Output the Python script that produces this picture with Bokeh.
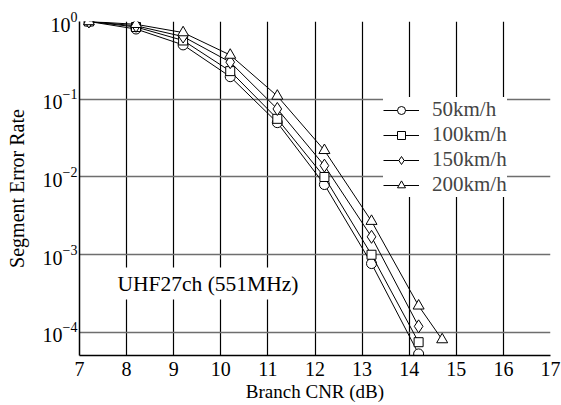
from bokeh.plotting import figure
from bokeh.models import FixedTicker, Label, Legend, LegendItem
from bokeh.embed import file_html
from bokeh.resources import INLINE

FONT = "'Liberation Serif', 'Times New Roman', serif"

cnr = [7.2, 8.2, 9.2, 10.2, 11.2, 12.2, 13.2, 14.2]
cnr_200 = [7.2, 8.2, 9.2, 10.2, 11.2, 12.2, 13.2, 14.2, 14.7]
ser_50 = [1.0, 0.80, 0.50, 0.195, 0.050, 0.0080, 7.7e-4, 5.3e-5]
ser_100 = [1.0, 0.85, 0.57, 0.23, 0.056, 0.0100, 1.0e-3, 7.5e-5]
ser_150 = [1.0, 0.88, 0.64, 0.30, 0.075, 0.0140, 1.7e-3, 1.2e-4]
ser_200 = [1.0, 0.92, 0.72, 0.37, 0.110, 0.0220, 2.7e-3, 2.2e-4, 8.1e-5]
labels = ["50km/h", "100km/h", "150km/h", "200km/h"]
x_ticks = [7, 8, 9, 10, 11, 12, 13, 14, 15, 16, 17]
y_ticks = [1e-4, 1e-3, 1e-2, 1e-1, 1e0]

p = figure(width=561, height=405, y_axis_type="log",
           x_range=(7, 17), y_range=(10 ** -4.296, 1.0),
           output_backend="svg", toolbar_location=None,
           min_border_left=79, min_border_right=11,
           min_border_top=21, min_border_bottom=50)
p.outline_line_color = None
p.background_fill_color = "white"
p.border_fill_color = "white"

p.xaxis.ticker = FixedTicker(ticks=x_ticks)
p.yaxis.ticker = FixedTicker(ticks=y_ticks)

for ax in (p.xaxis[0], p.yaxis[0]):
    ax.axis_line_color = "black"
    ax.axis_line_width = 1.5
    ax.major_tick_line_color = None
    ax.minor_tick_line_color = None
    ax.major_label_text_font = FONT
    ax.major_label_text_font_size = "20px"
    ax.major_label_text_color = "black"
    ax.axis_label_text_font = FONT
    ax.axis_label_text_font_style = "normal"
    ax.axis_label_text_color = "black"

p.xaxis.axis_label = "Branch CNR (dB)"
p.xaxis.axis_label_text_font_size = "19px"
p.xaxis.major_label_standoff = 0
p.xaxis.axis_label_standoff = 2
p.yaxis.axis_label = "Segment Error Rate"
p.yaxis.axis_label_text_font_size = "20px"
p.yaxis.major_label_standoff = -4
p.yaxis.axis_label_standoff = 12

p.xgrid.grid_line_color = "black"
p.xgrid.grid_line_width = 1.2
p.ygrid.grid_line_color = "#6e6e6e"
p.ygrid.grid_line_width = 1.6

series = [(cnr, ser_50, "circle", 10),
          (cnr, ser_100, "square", 9),
          (cnr, ser_150, "diamond", 13),
          (cnr_200, ser_200, "triangle", 11)]

items = []
for (xs, ys, marker, size), lab in zip(series, labels):
    r1 = p.line(xs, ys, line_color="black", line_width=1)
    r2 = p.scatter(xs, ys, marker=marker, size=size, fill_color="white",
                   line_color="black", line_width=1)
    items.append(LegendItem(label=lab, renderers=[r1, r2]))

legend = Legend(items=items, location=(304, 158), padding=0, spacing=-3,
                margin=0, glyph_width=36, glyph_height=20, label_height=20,
                label_standoff=13, label_text_font=FONT,
                label_text_font_size="21px",
                background_fill_color="white",
                background_fill_alpha=1.0, border_line_color=None)
p.add_layout(legend)

lbl = Label(x=34, y=56, x_units="screen", y_units="screen",
            text="UHF27ch (551MHz)", text_font=FONT, text_font_size="21.5px",
            text_color="black", background_fill_color="white",
            background_fill_alpha=1.0, padding=4)
p.add_layout(lbl)

open("out.html", "w").write(file_html(p, INLINE))
